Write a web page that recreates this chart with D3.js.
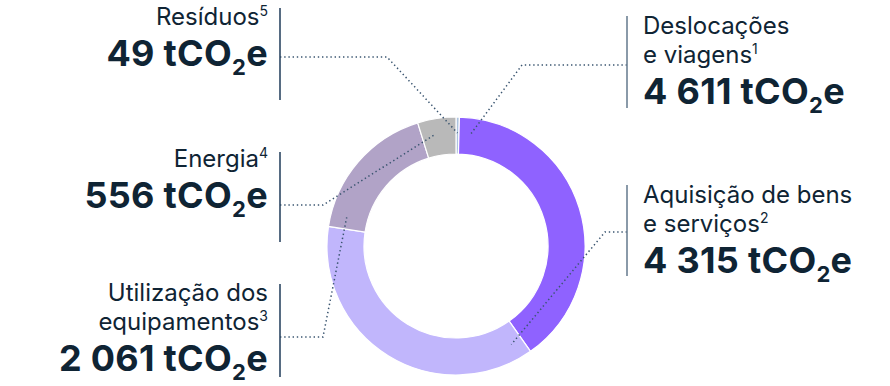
<!DOCTYPE html>
<html>
<head>
<meta charset="utf-8">
<script src="https://cdn.jsdelivr.net/npm/d3@7"></script>
<style>
  body { margin: 0; background: #fff; }
  svg { display: block; }
  text { font-family: Inter, "Noto Sans", sans-serif; fill: #0f2434; }
</style>
</head>
<body>
<svg id="chart" width="890" height="386"></svg>
<script>
// Emissions by source (tCO2e), in ring order clockwise from 12 o'clock
const categories = ["Resíduos", "Deslocações e viagens", "Aquisição de bens e serviços", "Utilização dos equipamentos", "Energia"];
const emissions = [49, 4611, 4315, 2061, 556];
const footnotes = ["5", "1", "2", "3", "4"];
const labelLines = [
  ["Resíduos"],
  ["Deslocações", "e viagens"],
  ["Aquisição de bens", "e serviços"],
  ["Utilização dos", "equipamentos"],
  ["Energia"]
];
const sliceColors = ["#adc3df", "#8f62ff", "#c1b6fc", "#b1a3c7", "#b9b9b9"];

// Callout layout: side, divider bar, leader start/elbow, preferred aim angle (deg), text baselines
const callouts = [
  { side: "left",  barX: 280, top: 8,   bottom: 100, lineY: 57,  elbowX: 387, aim: 353, rows: [25],       valueY: 66 },
  { side: "right", barX: 627, top: 16,  bottom: 108, lineY: 65,  elbowX: 522, aim: 5,   rows: [34, 63],   valueY: 104 },
  { side: "right", barX: 627, top: 185, bottom: 276, lineY: 232, elbowX: 605, aim: 96,  rows: [203, 232], valueY: 273 },
  { side: "left",  barX: 280, top: 284, bottom: 377, lineY: 337, elbowX: 323, aim: 235, rows: [301, 330], valueY: 371 },
  { side: "left",  barX: 280, top: 152, bottom: 242, lineY: 205, elbowX: 323, aim: 304, rows: [167],      valueY: 208 }
];

const cx = 456, cy = 246, rOuter = 129, rInner = 92, rAnchor = 113;

const svg = d3.select("#chart");
const fmt = d3.formatLocale({ decimal: ",", thousands: " ", grouping: [3], currency: ["", " €"] }).format(",d");

const pie = d3.pie().sort(null).value(d => d);
const arcs = pie(emissions);
const arc = d3.arc().innerRadius(rInner).outerRadius(rOuter);

const ring = svg.append("g").attr("transform", `translate(${cx},${cy})`);
ring.selectAll("path")
  .data(arcs)
  .join("path")
  .attr("d", arc)
  .attr("fill", (d, i) => sliceColors[i])
  .attr("stroke", "#ffffff")
  .attr("stroke-width", 1.2);

// Point inside a slice closest to the callout's preferred direction
function anchorFor(a, aimDeg) {
  const pad = Math.min(6 * Math.PI / 180, (a.endAngle - a.startAngle) / 2);
  const aim = aimDeg * Math.PI / 180;
  const ang = Math.max(a.startAngle + pad, Math.min(a.endAngle - pad, aim));
  return [cx + rAnchor * Math.sin(ang), cy - rAnchor * Math.cos(ang)];
}

const callG = svg.append("g");
arcs.forEach((a, i) => {
  const c = callouts[i];
  const left = c.side === "left";
  const [ax, ay] = anchorFor(a, c.aim);

  // dotted leader: horizontal from the divider, then to the slice
  callG.append("path")
    .attr("d", d3.line()([[c.barX, c.lineY], [c.elbowX, c.lineY], [ax, ay]]))
    .attr("fill", "none")
    .attr("stroke", "#3a5570")
    .attr("stroke-width", 1.5)
    .attr("stroke-dasharray", "1.4 2.8");

  // divider bar
  callG.append("line")
    .attr("x1", c.barX).attr("x2", c.barX)
    .attr("y1", c.top).attr("y2", c.bottom)
    .attr("stroke", left ? "#2c4763" : "#6d8194")
    .attr("stroke-width", 1.6);

  const tx = left ? c.barX - 12 : c.barX + 16;
  const anchor = left ? "end" : "start";

  // category name lines, footnote on the last one
  labelLines[i].forEach((line, j) => {
    const t = callG.append("text")
      .attr("x", tx).attr("y", c.rows[j])
      .attr("text-anchor", anchor)
      .attr("font-size", 24)
      .attr("font-weight", 400)
      .text(line);
    if (j === labelLines[i].length - 1) {
      t.append("tspan").attr("font-size", 14).attr("dy", -9).text(footnotes[i]);
    }
  });

  // value line: "n tCO₂e"
  const v = callG.append("text")
    .attr("x", tx).attr("y", c.valueY)
    .attr("text-anchor", anchor)
    .attr("font-size", 36)
    .attr("font-weight", 700)
    .attr("letter-spacing", 0.3);
  v.append("tspan").text(`${fmt(emissions[i])} tCO`);
  v.append("tspan").attr("font-size", 22).attr("dy", 9).text("2");
  v.append("tspan").attr("dy", -9).text("e");
});
</script>
</body>
</html>
